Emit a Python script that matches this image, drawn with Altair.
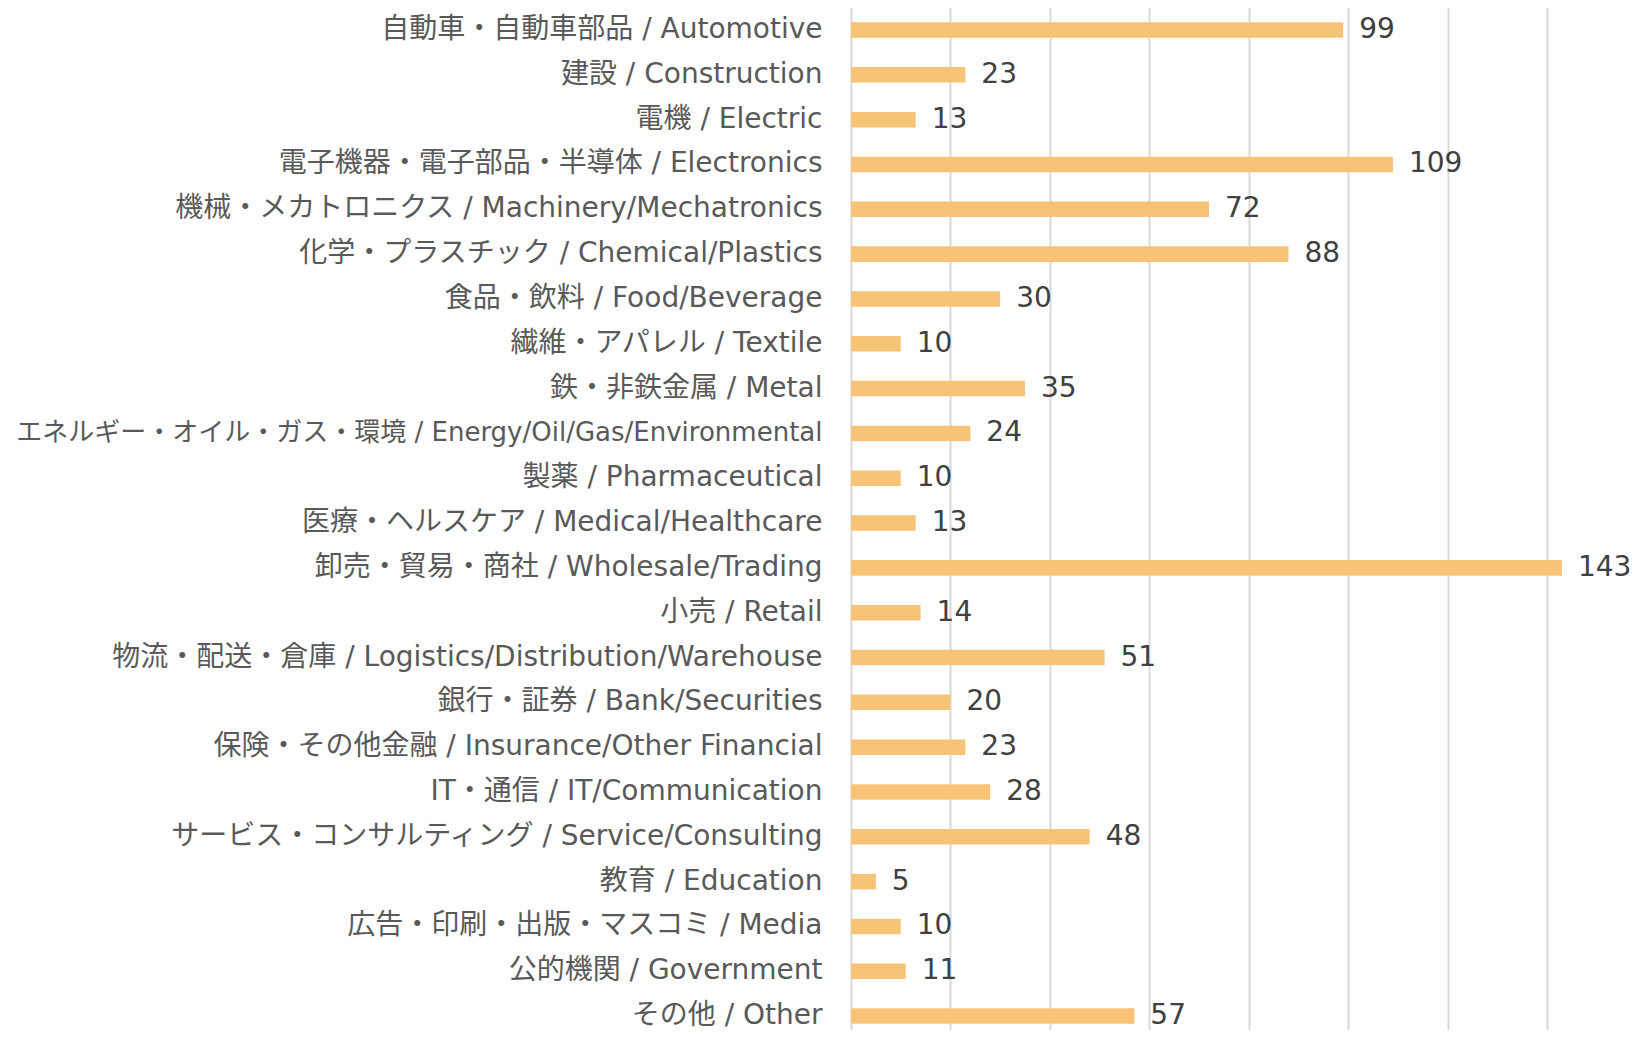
import altair as alt
import pandas as pd

categories = [
    "自動車・自動車部品 / Automotive",
    "建設 / Construction",
    "電機 / Electric",
    "電子機器・電子部品・半導体 / Electronics",
    "機械・メカトロニクス / Machinery/Mechatronics",
    "化学・プラスチック / Chemical/Plastics",
    "食品・飲料 / Food/Beverage",
    "繊維・アパレル / Textile",
    "鉄・非鉄金属 / Metal",
    "エネルギー・オイル・ガス・環境 / Energy/Oil/Gas/Environmental",
    "製薬 / Pharmaceutical",
    "医療・ヘルスケア / Medical/Healthcare",
    "卸売・貿易・商社 / Wholesale/Trading",
    "小売 / Retail",
    "物流・配送・倉庫 / Logistics/Distribution/Warehouse",
    "銀行・証券 / Bank/Securities",
    "保険・その他金融 / Insurance/Other Financial",
    "IT・通信 / IT/Communication",
    "サービス・コンサルティング / Service/Consulting",
    "教育 / Education",
    "広告・印刷・出版・マスコミ / Media",
    "公的機関 / Government",
    "その他 / Other",
]
values = [99, 23, 13, 109, 72, 88, 30, 10, 35, 24, 10, 13, 143, 14, 51, 20, 23, 28, 48, 5, 10, 11, 57]
tick_values = [0, 20, 40, 60, 80, 100, 120, 140]

df = pd.DataFrame({"category": categories, "value": values})

FONT = "DejaVu Sans, Noto Sans CJK JP"
LONG = categories[9]

y_enc = alt.Y(
    "category:N",
    sort=categories,
    scale=alt.Scale(paddingInner=0.653, paddingOuter=0.264, range=[2.4, 1027.7]),
    axis=alt.Axis(
        title=None,
        domain=False,
        ticks=False,
        labelFont=FONT,
        labelFontSize={"condition": {"test": f"datum.value === '{LONG}'", "value": 26}, "value": 28},
        labelColor="#595959",
        labelPadding=29,
        labelLimit=1000,
    ),
)
x_enc = alt.X(
    "value:Q",
    scale=alt.Scale(domain=[0, 140], nice=False, clamp=False),
    axis=alt.Axis(
        title=None,
        values=tick_values,
        labels=False,
        ticks=False,
        domain=False,
        grid=True,
        gridColor="#D9D9D9",
        gridWidth=2,
    ),
)

bars = alt.Chart(df).mark_bar(color="#F6C377", clip=False).encode(y=y_enc, x=x_enc)
text = alt.Chart(df).mark_text(
    align="left", baseline="middle", dx=16, font=FONT, fontSize=28, color="#404040", clip=False
).encode(y=alt.Y("category:N", sort=categories), x="value:Q", text="value:Q")

chart = (
    alt.layer(bars, text)
    .properties(
        width=696,
        height=1024,
        autosize=alt.AutoSizeParams(type="none"),
        padding={"left": 843, "top": 0, "right": 84, "bottom": 0},
    )
    .configure_view(stroke=None)
)

chart.save("out.html", embed_options={"renderer": "svg", "actions": False})
